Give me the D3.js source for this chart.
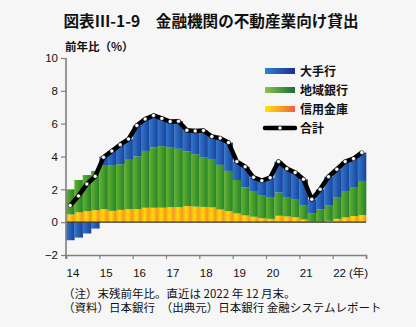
<!DOCTYPE html>
<html>
<head>
<meta charset="utf-8">
<script src="https://cdn.jsdelivr.net/npm/d3@7"></script>
<style>
  html, body { margin: 0; padding: 0; background: #f6f6f6; }
  svg { display: block; }
  text { font-family: "Liberation Sans", "Noto Sans CJK JP", sans-serif; fill: #111; }
  .jp { font-family: "Noto Sans CJK JP", sans-serif; }
</style>
</head>
<body>
<script>
// Data (quarterly, 2014Q1 - 2022Q4)
var quarters = [];
for (var yr = 14; yr <= 22; yr++) {
  for (var q = 1; q <= 4; q++) quarters.push(yr + "Q" + q);
}
var shinkin = [0.47, 0.60, 0.67, 0.73, 0.80, 0.69, 0.75, 0.80, 0.80, 0.88, 0.88, 0.88,
               0.92, 0.92, 0.98, 0.95, 0.93, 0.90, 0.77, 0.67, 0.53, 0.41, 0.33, 0.24,
               0.20, 0.39, 0.35, 0.30, 0.16, 0.03, 0.02, 0.08, 0.20, 0.29, 0.37, 0.43];
var chiginn = [1.53, 1.97, 2.20, 2.39, 2.64, 2.75, 2.78, 3.00, 3.20, 3.46, 3.67, 3.75,
               3.65, 3.55, 3.34, 3.19, 3.00, 2.95, 2.72, 2.45, 2.04, 1.71, 1.57, 1.41,
               1.33, 1.42, 1.18, 1.11, 0.88, 0.52, 0.76, 0.96, 1.33, 1.61, 1.73, 2.08];
var ootegin = [-1.10, -0.94, -0.69, -0.39, 0.56, 0.90, 1.19, 1.26, 1.89, 1.94, 1.95, 1.69,
               1.56, 1.68, 1.28, 1.42, 1.65, 1.37, 1.63, 1.73, 1.12, 1.26, 0.83, 0.88,
               1.18, 1.88, 1.73, 1.61, 1.57, 0.84, 1.22, 1.73, 1.69, 1.79, 1.77, 1.73];
var total   = [1.02, 1.60, 2.32, 2.79, 3.95, 4.33, 4.72, 5.06, 5.89, 6.28, 6.50, 6.32,
               6.13, 6.15, 5.60, 5.56, 5.58, 5.22, 5.12, 4.85, 3.69, 3.38, 2.73, 2.53,
               2.71, 3.69, 3.26, 3.02, 2.61, 1.39, 2.00, 2.77, 3.22, 3.69, 3.87, 4.24];
var yearLabels = ["14", "15", "16", "17", "18", "19", "20", "21", "22"];
var yTicks = [-2, 0, 2, 4, 6, 8, 10];
var legendNames = ["大手行", "地域銀行", "信用金庫", "合計"];

// Constants
var w = 416,
    h = 327,
    plotLeft = 66,
    plotRight = 366,
    plotTop = 58,
    plotBottom = 255;

var svg = d3.select("body")
            .append("svg")
            .attr("width", w)
            .attr("height", h);

// Gradients
var defs = svg.append("defs");
function grad(id, stops) {
  var g = defs.append("linearGradient").attr("id", id)
              .attr("x1", "0%").attr("x2", "100%").attr("y1", "0%").attr("y2", "0%");
  stops.forEach(function(s) {
    g.append("stop").attr("offset", s[0]).attr("stop-color", s[1]);
  });
}
grad("gBlue", [["0%", "#2f78cf"], ["100%", "#1c4195"]]);
grad("gGreen", [["0%", "#66b22e"], ["100%", "#23822c"]]);
grad("gYellow", [["0%", "#f7a51f"], ["40%", "#ffdc05"], ["100%", "#f58a22"]]);
grad("lBlue", [["0%", "#2f82d8"], ["100%", "#1b2f8a"]]);
grad("lGreen", [["0%", "#8dc63f"], ["100%", "#176c3c"]]);
grad("lYellow", [["0%", "#ffe800"], ["100%", "#ef5f3c"]]);

// Scales
var xScale = d3.scaleBand()
               .domain(quarters)
               .range([plotLeft, plotRight])
               .padding(0);

var yScale = d3.scaleLinear()
               .domain([-2, 10])
               .range([plotBottom, plotTop]);

var yearScale = d3.scaleLinear()
                  .domain([2014, 2023])
                  .range([plotLeft, plotRight]);

// Title
svg.append("text")
   .attr("class", "jp")
   .attr("x", 211)
   .attr("y", 27)
   .attr("text-anchor", "middle")
   .style("font-size", "15.6px")
   .style("font-weight", "bold")
   .text("図表Ⅲ-1-9　金融機関の不動産業向け貸出");

// Unit label
svg.append("text")
   .attr("class", "jp")
   .attr("x", 65)
   .attr("y", 51)
   .style("font-size", "11.5px")
   .style("font-weight", "bold")
   .text("前年比（%）");

// Bars
var barW = xScale.bandwidth();
var layers = [
  { vals: shinkin, fill: "url(#gYellow)", base: function(i) { return 0; } },
  { vals: chiginn, fill: "url(#gGreen)", base: function(i) { return shinkin[i]; } },
  { vals: ootegin, fill: "url(#gBlue)", base: function(i) {
      return ootegin[i] < 0 ? 0 : shinkin[i] + chiginn[i]; } }
];
layers.forEach(function(layer) {
  svg.append("g")
     .selectAll("rect")
     .data(layer.vals)
     .enter()
     .append("rect")
     .attr("x", function(d, i) { return xScale(quarters[i]); })
     .attr("width", barW + 0.3)
     .attr("y", function(d, i) {
        var b = layer.base(i);
        return yScale(Math.max(b, b + d));
     })
     .attr("height", function(d) { return Math.abs(yScale(0) - yScale(d)); })
     .attr("fill", layer.fill);
});

// Zero line
svg.append("line")
   .attr("x1", plotLeft).attr("x2", plotRight)
   .attr("y1", yScale(0)).attr("y2", yScale(0))
   .attr("stroke", "#333")
   .attr("stroke-width", 1.3);

// Axes
var yAxis = d3.axisLeft(yScale)
              .tickValues(yTicks)
              .tickSize(5)
              .tickPadding(3);
var gy = svg.append("g")
   .attr("class", "y axis")
   .attr("transform", "translate(" + plotLeft + ",0)")
   .call(yAxis);

var xAxis = d3.axisBottom(yearScale)
              .tickValues(d3.range(2014, 2024))
              .tickSize(4)
              .tickFormat("");
var gx = svg.append("g")
   .attr("class", "x axis")
   .attr("transform", "translate(0," + plotBottom + ")")
   .call(xAxis);

[gx, gy].forEach(function(g) {
  g.attr("font-family", null);
  g.select(".domain").attr("stroke", "#808080").attr("stroke-width", 1.6);
  g.selectAll(".tick line").attr("stroke", "#808080").attr("stroke-width", 1.2);
  g.selectAll("text").style("font-size", "11.5px").attr("fill", "#111");
});
gy.select(".domain").attr("d", "M0," + plotTop + "V" + (plotBottom + 4));

// Year labels
svg.append("g")
   .selectAll("text")
   .data(yearLabels)
   .enter()
   .append("text")
   .attr("x", function(d, i) { return yearScale(2014 + i) + 0.5; })
   .attr("y", 277)
   .style("font-size", "11.5px")
   .text(function(d) { return d; });

svg.append("text")
   .attr("x", 349)
   .attr("y", 277)
   .style("font-size", "11.5px")
   .text("(年)");

// Total line
var line = d3.line()
             .x(function(d, i) { return xScale(quarters[i]) + barW / 2; })
             .y(function(d) { return yScale(d); });

svg.append("path")
   .datum(total)
   .attr("d", line)
   .attr("fill", "none")
   .attr("stroke", "#000")
   .attr("stroke-width", 4.5)
   .attr("stroke-linejoin", "round");

svg.append("g")
   .selectAll("circle")
   .data(total)
   .enter()
   .append("circle")
   .attr("cx", function(d, i) { return xScale(quarters[i]) + barW / 2; })
   .attr("cy", function(d) { return yScale(d); })
   .attr("r", 2)
   .attr("fill", "#fff")
   .attr("stroke", "#000")
   .attr("stroke-width", 0.5);

// Legend
var legend = svg.append("g").attr("transform", "translate(265,0)");
var legendFills = ["url(#lBlue)", "url(#lGreen)", "url(#lYellow)"];
var legendY = [71, 90, 109, 128];
legendFills.forEach(function(f, i) {
  legend.append("rect")
        .attr("x", 0).attr("y", legendY[i] - 3)
        .attr("width", 30).attr("height", 6)
        .attr("fill", f);
});
legend.append("line")
      .attr("x1", 0).attr("x2", 30)
      .attr("y1", legendY[3]).attr("y2", legendY[3])
      .attr("stroke", "#000").attr("stroke-width", 4.5)
      .attr("stroke-linecap", "round");
legend.append("circle")
      .attr("cx", 15).attr("cy", legendY[3]).attr("r", 2)
      .attr("fill", "#fff").attr("stroke", "#000").attr("stroke-width", 0.5);
legend.selectAll("text.lg")
      .data(legendNames)
      .enter()
      .append("text")
      .attr("class", "jp lg")
      .attr("x", 35)
      .attr("y", function(d, i) { return legendY[i] + 4.5; })
      .style("font-size", "12px")
      .style("font-weight", "bold")
      .text(function(d) { return d; });

// Notes
svg.append("text")
   .attr("class", "jp")
   .attr("x", 63)
   .attr("y", 298)
   .style("font-size", "11.5px")
   .text("（注）末残前年比。直近は 2022 年 12 月末。");
svg.append("text")
   .attr("class", "jp")
   .attr("x", 63)
   .attr("y", 312)
   .style("font-size", "11.5px")
   .text("（資料）日本銀行　（出典元）日本銀行 金融システムレポート");
</script>
</body>
</html>
